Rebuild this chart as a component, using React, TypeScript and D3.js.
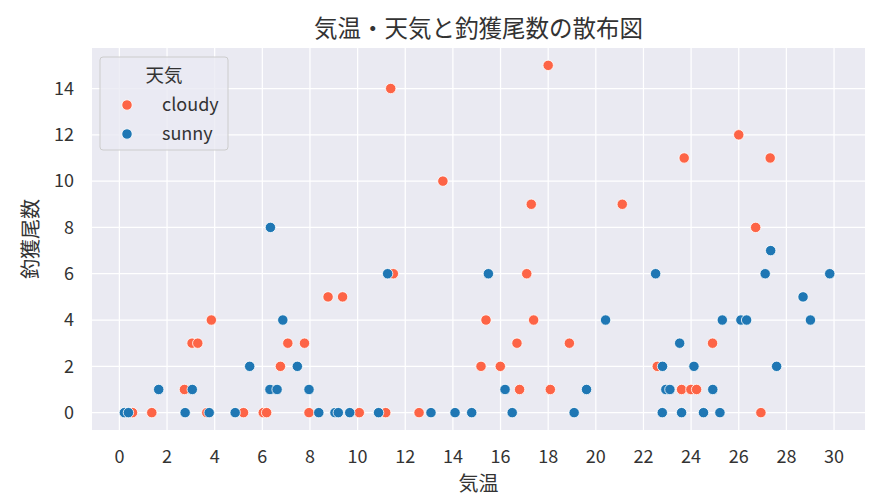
import * as d3 from 'd3'
import React, { useEffect, useRef } from 'react'

// 曇り (cloudy) の観測: 気温と釣獲尾数
const cloudyTemp = [
    0.55, 1.36, 3.67, 5.21, 6.04, 6.18, 7.96, 10.07, 11.18, 12.58, 26.93,
    2.73, 16.8, 18.09, 23.6, 23.99, 24.23,
    6.76, 15.18, 15.99, 22.58,
    3.05, 3.29, 7.07, 7.77, 16.69, 18.89, 24.9,
    3.86, 15.39, 17.39,
    8.76, 9.37,
    11.5, 17.1,
    26.71,
    17.29, 21.11,
    13.58,
    23.71, 27.32,
    26.0,
    11.39,
    18.0,
];
const cloudyCount = [
    0, 0, 0, 0, 0, 0, 0, 0, 0, 0, 0,
    1, 1, 1, 1, 1, 1,
    2, 2, 2, 2,
    3, 3, 3, 3, 3, 3, 3,
    4, 4, 4,
    5, 5,
    6, 6,
    8,
    9, 9,
    10,
    11, 11,
    12,
    14,
    15,
];

// 晴れ (sunny)
const sunnyTemp = [
    0.21, 0.38, 2.76, 3.77, 4.86, 8.37, 9.05, 9.19, 9.67, 10.88, 13.08, 14.09, 14.79, 16.49, 19.09, 22.79, 23.6, 24.52, 25.21,
    1.65, 3.06, 6.32, 6.62, 7.96, 16.19, 19.61, 22.94, 23.11, 24.91,
    5.47, 7.47, 22.8, 24.12, 27.59,
    23.52,
    6.86, 20.41, 25.31, 26.09, 26.33, 29.01,
    28.7,
    11.26, 15.49, 22.51, 27.11, 29.82,
    27.34,
    6.34,
];
const sunnyCount = [
    0, 0, 0, 0, 0, 0, 0, 0, 0, 0, 0, 0, 0, 0, 0, 0, 0, 0, 0,
    1, 1, 1, 1, 1, 1, 1, 1, 1, 1,
    2, 2, 2, 2, 2,
    3,
    4, 4, 4, 4, 4, 4,
    5,
    6, 6, 6, 6, 6,
    7,
    8,
];

const weatherLabels = ['cloudy', 'sunny'];
const weatherColors = ['#fd6446', '#1f77b4'];
const xTicks = d3.range(0, 31, 2);
const yTicks = d3.range(0, 15, 2);

const W = 882;
const H = 501;
const FONT = '"Noto Sans CJK JP", "Noto Sans", sans-serif';
const TEXT = '#333333';

const ScatterChart: React.FC = () => {
    const ref = useRef<SVGSVGElement>(null);

    useEffect(() => {
        if (!ref.current) return;
        const svg = d3.select(ref.current);
        svg.selectAll('*').remove();

        const margin = { top: 48, right: 17, bottom: 71, left: 92 };
        const x = d3.scaleLinear().domain([-1.15, 31.3]).range([margin.left, W - margin.right]);
        const y = d3.scaleLinear().domain([-0.75, 15.75]).range([H - margin.bottom, margin.top]);

        svg.append('rect')
            .attr('x', margin.left)
            .attr('y', margin.top)
            .attr('width', W - margin.left - margin.right)
            .attr('height', H - margin.bottom - margin.top)
            .attr('fill', '#eaeaf2');

        // grid
        const grid = svg.append('g').attr('stroke', '#ffffff').attr('stroke-width', 1.25);
        grid.selectAll('line.vx')
            .data(xTicks)
            .enter()
            .append('line')
            .attr('x1', d => x(d)).attr('x2', d => x(d))
            .attr('y1', margin.top).attr('y2', H - margin.bottom);
        grid.selectAll('line.hy')
            .data(yTicks)
            .enter()
            .append('line')
            .attr('y1', d => y(d)).attr('y2', d => y(d))
            .attr('x1', margin.left).attr('x2', W - margin.right);

        // tick labels
        svg.append('g')
            .attr('font-family', FONT)
            .attr('font-size', 18)
            .attr('fill', TEXT)
            .attr('text-anchor', 'middle')
            .selectAll('text')
            .data(xTicks)
            .enter()
            .append('text')
            .attr('x', d => x(d))
            .attr('y', H - margin.bottom + 33)
            .text(d => String(d));

        svg.append('g')
            .attr('font-family', FONT)
            .attr('font-size', 18)
            .attr('fill', TEXT)
            .attr('text-anchor', 'end')
            .selectAll('text')
            .data(yTicks)
            .enter()
            .append('text')
            .attr('x', margin.left - 18)
            .attr('y', d => y(d))
            .attr('dy', '0.35em')
            .text(d => String(d));

        // axis labels + title
        svg.append('text')
            .attr('x', (margin.left + W - margin.right) / 2)
            .attr('y', H - 10)
            .attr('text-anchor', 'middle')
            .attr('font-family', FONT)
            .attr('font-size', 20)
            .attr('fill', TEXT)
            .text('気温');

        svg.append('text')
            .attr('transform', `translate(38, ${(margin.top + H - margin.bottom) / 2}) rotate(-90)`)
            .attr('text-anchor', 'middle')
            .attr('font-family', FONT)
            .attr('font-size', 20)
            .attr('fill', TEXT)
            .text('釣獲尾数');

        svg.append('text')
            .attr('x', (margin.left + W - margin.right) / 2)
            .attr('y', 37)
            .attr('text-anchor', 'middle')
            .attr('font-family', FONT)
            .attr('font-size', 23.5)
            .attr('fill', TEXT)
            .text('気温・天気と釣獲尾数の散布図');

        // points
        const series = [
            { temp: cloudyTemp, count: cloudyCount, color: weatherColors[0] },
            { temp: sunnyTemp, count: sunnyCount, color: weatherColors[1] },
        ];
        const dots = svg.append('g').attr('stroke', '#ffffff').attr('stroke-width', 0.8);
        series.forEach(s => {
            dots.append('g')
                .selectAll('circle')
                .data(s.temp.map((t, i) => ({ t, c: s.count[i] })))
                .enter()
                .append('circle')
                .attr('cx', d => x(d.t))
                .attr('cy', d => y(d.c))
                .attr('r', 5.2)
                .attr('fill', s.color);
        });

        // legend
        const lg = svg.append('g').attr('transform', `translate(${margin.left + 8}, ${margin.top + 9})`);
        lg.append('rect')
            .attr('width', 128)
            .attr('height', 93)
            .attr('rx', 3)
            .attr('fill', '#eaeaf2')
            .attr('fill-opacity', 0.8)
            .attr('stroke', '#cccccc')
            .attr('stroke-width', 1);
        lg.append('text')
            .attr('x', 64)
            .attr('y', 25)
            .attr('text-anchor', 'middle')
            .attr('font-family', FONT)
            .attr('font-size', 18.5)
            .attr('fill', TEXT)
            .text('天気');
        weatherLabels.forEach((lab, i) => {
            const row = lg.append('g').attr('transform', `translate(0, ${48 + i * 29})`);
            row.append('circle')
                .attr('cx', 27)
                .attr('cy', 0)
                .attr('r', 5.2)
                .attr('fill', weatherColors[i])
                .attr('stroke', '#ffffff')
                .attr('stroke-width', 0.8);
            row.append('text')
                .attr('x', 62)
                .attr('y', 0)
                .attr('dy', '0.35em')
                .attr('font-family', FONT)
                .attr('font-size', 18)
                .attr('fill', TEXT)
                .text(lab);
        });
    }, []);

    return <svg ref={ref} width={W} height={H} style={{ position: 'absolute', left: 0, top: 0, background: '#ffffff' }}></svg>;
};

export default function App() {
    return <ScatterChart />;
}
